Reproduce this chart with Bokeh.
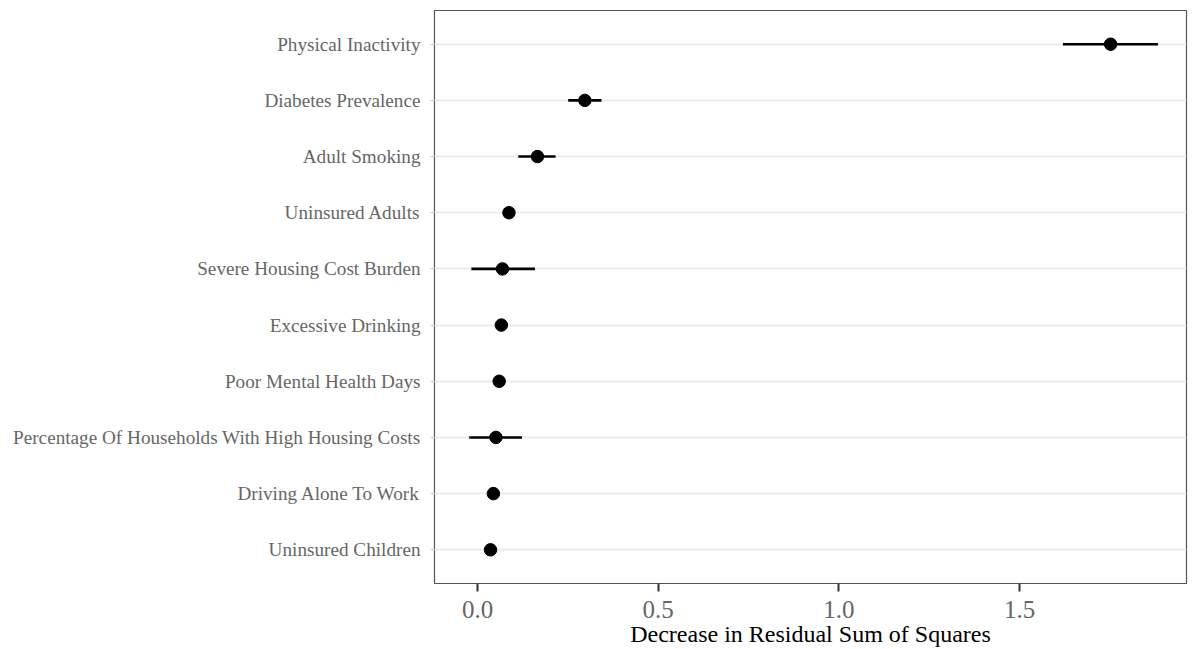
from bokeh.plotting import figure
from bokeh.models import Range1d, FixedTicker, ColumnDataSource
from bokeh.embed import file_html
from bokeh.resources import INLINE

names = [
    "Physical Inactivity",
    "Diabetes Prevalence",
    "Adult Smoking",
    "Uninsured Adults",
    "Severe Housing Cost Burden",
    "Excessive Drinking",
    "Poor Mental Health Days",
    "Percentage Of Households With High Housing Costs",
    "Driving Alone To Work",
    "Uninsured Children",
]
means = [1.752, 0.297, 0.166, 0.087, 0.069, 0.066, 0.060, 0.051, 0.044, 0.036]
lows = [1.620, 0.251, 0.113, 0.087, -0.017, 0.066, 0.060, -0.023, 0.044, 0.036]
highs = [1.883, 0.343, 0.216, 0.087, 0.159, 0.066, 0.060, 0.123, 0.044, 0.036]
x_ticks = [0.0, 0.5, 1.0, 1.5]

n = len(names)
ypos = [n - i for i in range(n)]
src = ColumnDataSource(dict(y=ypos, m=means, lo=lows, hi=highs))

FONT = "Liberation Serif"

p = figure(width=1188, height=649, output_backend="svg", toolbar_location=None,
           x_range=Range1d(-0.119, 1.962), y_range=Range1d(0.4, n + 0.6),
           min_border_left=434, min_border_right=2, min_border_top=10, min_border_bottom=65)
p.background_fill_color = "white"
p.border_fill_color = "white"
p.outline_line_color = "#555555"
p.outline_line_width = 1.2

p.segment(x0="lo", x1="hi", y0="y", y1="y", source=src, line_color="black", line_width=2.6)
p.scatter(x="m", y="y", source=src, size=12.5, color="black")

p.xgrid.visible = False
p.ygrid.grid_line_color = "#ebebeb"
p.ygrid.grid_line_width = 2
p.ygrid.ticker = FixedTicker(ticks=ypos)

p.xaxis.ticker = FixedTicker(ticks=x_ticks)
p.xaxis.major_label_overrides = {t: f"{t:.1f}" for t in x_ticks}
p.xaxis.axis_line_color = None
p.xaxis.major_tick_line_color = "#333333"
p.xaxis.major_tick_line_width = 2
p.xaxis.major_tick_out = 8
p.xaxis.major_tick_in = 0
p.xaxis.minor_tick_line_color = None
p.xaxis.major_label_text_font = FONT
p.xaxis.major_label_text_font_size = "25px"
p.xaxis.major_label_text_color = "#666666"
p.xaxis.major_label_standoff = 9
p.xaxis.axis_label = "Decrease in Residual Sum of Squares"
p.xaxis.axis_label_text_font = FONT
p.xaxis.axis_label_text_font_style = "normal"
p.xaxis.axis_label_text_font_size = "24px"
p.xaxis.axis_label_text_color = "black"
p.xaxis.axis_label_standoff = 0

p.yaxis.ticker = FixedTicker(ticks=ypos)
p.yaxis.major_label_overrides = {y: nm for y, nm in zip(ypos, names)}
p.yaxis.axis_line_color = None
p.yaxis.major_tick_line_color = "#cccccc"
p.yaxis.major_tick_out = 4
p.yaxis.major_tick_in = 0
p.yaxis.minor_tick_line_color = None
p.yaxis.major_label_text_font = FONT
p.yaxis.major_label_text_font_size = "19.2px"
p.yaxis.major_label_text_color = "#666666"
p.yaxis.major_label_standoff = 10

open("out.html", "w").write(file_html(p, INLINE))
